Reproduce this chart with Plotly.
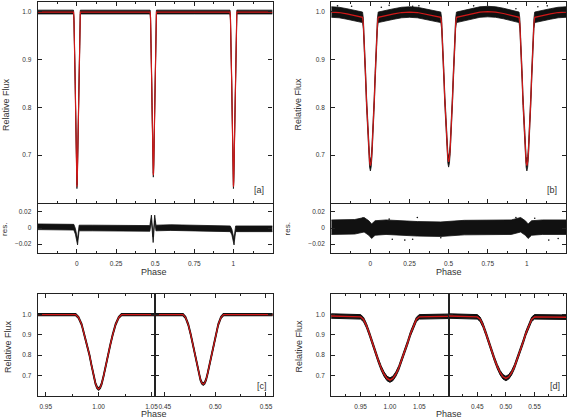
import plotly.graph_objects as go

W, H = 571, 420

# ---- system A (panels a and c) : phase / relative flux
a_phase = [-0.25, -0.1,
           -0.0217, -0.019, -0.016, -0.0133, -0.011, -0.0086, -0.0067, -0.0048, -0.003, -0.0015, 0.0,
           0.0015, 0.003, 0.0048, 0.0067, 0.0086, 0.011, 0.0133, 0.016, 0.019, 0.0217,
           0.25,
           0.468, 0.4705, 0.4732, 0.4757, 0.4779, 0.4801, 0.4819, 0.4837, 0.4852, 0.4866, 0.488,
           0.4894, 0.4908, 0.4923, 0.4941, 0.4959, 0.4981, 0.5003, 0.5028, 0.5055, 0.508,
           0.75,
           0.9783, 0.981, 0.984, 0.9867, 0.989, 0.9914, 0.9933, 0.9952, 0.997, 0.9985, 1.0,
           1.0015, 1.003, 1.0048, 1.0067, 1.0086, 1.011, 1.0133, 1.016, 1.019, 1.0217,
           1.1, 1.25]
a_flux = [0.999, 0.999,
          0.999, 0.985, 0.95, 0.9, 0.85, 0.8, 0.75, 0.7, 0.662, 0.642, 0.634,
          0.642, 0.662, 0.7, 0.75, 0.8, 0.85, 0.9, 0.95, 0.985, 0.999,
          0.999,
          0.999, 0.985, 0.95, 0.9, 0.85, 0.8, 0.75, 0.71, 0.68, 0.664, 0.658,
          0.664, 0.68, 0.71, 0.75, 0.8, 0.85, 0.9, 0.95, 0.985, 0.999,
          0.999,
          0.999, 0.985, 0.95, 0.9, 0.85, 0.8, 0.75, 0.7, 0.662, 0.642, 0.634,
          0.642, 0.662, 0.7, 0.75, 0.8, 0.85, 0.9, 0.95, 0.985, 0.999,
          0.999, 0.999]
a_scatter = 0.004

a_res_phase = [-0.25, -0.1, -0.02, -0.01, 0.0, 0.004, 0.008, 0.014, 0.1, 0.25, 0.4,
               0.466, 0.476, 0.487, 0.497, 0.505, 0.6, 0.75, 0.9,
               0.98, 0.99, 1.0, 1.004, 1.008, 1.014, 1.1, 1.25]
a_res = [0.0015, 0.001, 0.001, -0.004, -0.012, -0.0175, -0.01, 0.0, 0.0, 0.0, -0.0005,
         -0.0005, 0.0125, -0.0145, 0.0125, 0.0, 0.0005, 0.0, -0.0005,
         -0.001, -0.005, -0.013, -0.0175, -0.01, -0.001, -0.001, -0.001]
a_res_scatter = 0.0035

# ---- system B (panels b and d)
b_phase = [-0.25, -0.2, -0.15, -0.1,
           -0.05, -0.045, -0.04, -0.035, -0.03, -0.025, -0.02, -0.015, -0.01, -0.005, 0.0,
           0.005, 0.01, 0.015, 0.02, 0.025, 0.03, 0.035, 0.04, 0.045, 0.05,
           0.1, 0.15, 0.2, 0.25, 0.3, 0.35, 0.4,
           0.45, 0.455, 0.46, 0.465, 0.47, 0.475, 0.48, 0.485, 0.49, 0.495, 0.5,
           0.505, 0.51, 0.515, 0.52, 0.525, 0.53, 0.535, 0.54, 0.545, 0.55,
           0.6, 0.65, 0.7, 0.75, 0.8, 0.85, 0.9,
           0.95, 0.955, 0.96, 0.965, 0.97, 0.975, 0.98, 0.985, 0.99, 0.995, 1.0,
           1.005, 1.01, 1.015, 1.02, 1.025, 1.03, 1.035, 1.04, 1.045, 1.05,
           1.1, 1.15, 1.2, 1.25]
b_flux = [0.999, 0.998, 0.995, 0.992,
          0.988, 0.975, 0.945, 0.905, 0.86, 0.815, 0.775, 0.737, 0.707, 0.686, 0.678,
          0.686, 0.707, 0.737, 0.775, 0.815, 0.86, 0.905, 0.945, 0.975, 0.988,
          0.992, 0.995, 0.998, 0.999, 0.998, 0.995, 0.992,
          0.988, 0.976, 0.947, 0.908, 0.864, 0.82, 0.781, 0.744, 0.714, 0.694, 0.686,
          0.694, 0.714, 0.744, 0.781, 0.82, 0.864, 0.908, 0.947, 0.976, 0.988,
          0.992, 0.996, 0.999, 1.0, 0.999, 0.996, 0.992,
          0.988, 0.975, 0.945, 0.905, 0.86, 0.815, 0.775, 0.737, 0.707, 0.686, 0.678,
          0.686, 0.707, 0.737, 0.775, 0.815, 0.86, 0.905, 0.945, 0.975, 0.988,
          0.992, 0.995, 0.998, 0.999]
b_scatter = 0.011

b_res_phase = [-0.25, -0.1, -0.04, -0.01, 0.008, 0.03, 0.1, 0.3, 0.45, 0.6, 0.9,
               0.96, 0.99, 1.008, 1.03, 1.1, 1.25]
b_res = [0.001, 0.0015, 0.004, 0.0, -0.004, 0.0, 0.001, -0.001, -0.0015, 0.0005, 0.001,
         0.004, 0.0, -0.004, 0.0, 0.001, 0.001]
b_res_scatter = 0.009

# a few stray points above / below the band of system B
b_out_phase = [-0.21, -0.12, 0.07, 0.12, 0.27, 0.31, 0.66, 0.93, 1.07, 1.13]
b_out_flux = [1.012, 1.011, 1.009, 1.013, 1.011, 1.012, 1.012, 1.006, 1.01, 1.012]
b_res_out_phase = [-0.05, 0.12, 0.14, 0.22, 0.27, 0.3, 0.45, 0.93, 1.05, 1.14, 1.2]
b_res_out = [0.012, 0.011, -0.014, -0.015, -0.014, 0.013, -0.012, 0.013, 0.012, -0.015, -0.013]

# tick values
flux_ticks = [0.7, 0.8, 0.9, 1.0]
res_ticks = [-0.02, 0, 0.02]
phase_ticks = [0, 0.25, 0.5, 0.75, 1]
prim_ticks = [0.95, 1.0, 1.05]
sec_ticks = [0.45, 0.5, 0.55]

BLACK = '#111111'
RED = '#d01818'
FONT = 'Liberation Sans'


def xd(a, b):
    return [a / W, b / W]


def yd(top, bottom):
    return [1 - bottom / H, 1 - top / H]


fig = go.Figure()


def band(x, y, s, ax, ay, lw=0.8):
    lo = [v - s for v in y]
    hi = [v + s for v in y]
    fig.add_trace(go.Scatter(x=x, y=lo, mode='lines', line=dict(color=BLACK, width=lw),
                             xaxis=ax, yaxis=ay, showlegend=False, hoverinfo='skip'))
    fig.add_trace(go.Scatter(x=x, y=hi, mode='lines', line=dict(color=BLACK, width=lw),
                             fill='tonexty', fillcolor=BLACK,
                             xaxis=ax, yaxis=ay, showlegend=False, hoverinfo='skip'))


def model(x, y, ax, ay, lw=1.2):
    fig.add_trace(go.Scatter(x=x, y=y, mode='lines', line=dict(color=RED, width=lw),
                             xaxis=ax, yaxis=ay, showlegend=False, hoverinfo='skip'))


def dots(x, y, ax, ay):
    fig.add_trace(go.Scatter(x=x, y=y, mode='markers', marker=dict(color=BLACK, size=1.6),
                             xaxis=ax, yaxis=ay, showlegend=False, hoverinfo='skip'))


# panel a
band(a_phase, a_flux, a_scatter, 'x', 'y')
model(a_phase, a_flux, 'x', 'y')
band(a_res_phase, a_res, a_res_scatter, 'x2', 'y2')
# panel b
band(b_phase, b_flux, b_scatter, 'x3', 'y3')
dots(b_out_phase, b_out_flux, 'x3', 'y3')
model(b_phase, b_flux, 'x3', 'y3')
band(b_res_phase, b_res, b_res_scatter, 'x4', 'y4')
dots(b_res_out_phase, b_res_out, 'x4', 'y4')
# panel c (zoom of system A)
for ax, ay in [('x5', 'y5'), ('x6', 'y6')]:
    band(a_phase, a_flux, a_scatter, ax, ay, lw=1.6)
    model(a_phase, a_flux, ax, ay, lw=1.2)
# panel d (zoom of system B)
for ax, ay in [('x7', 'y7'), ('x8', 'y8')]:
    band(b_phase, b_flux, b_scatter, ax, ay, lw=1.0)
    model(b_phase, b_flux, ax, ay, lw=1.4)

base = dict(showline=True, mirror='ticks', linecolor='#222222', linewidth=1.3,
            ticks='inside', ticklen=4, tickwidth=1, tickcolor='#222222',
            showgrid=False, zeroline=False, ticklabelstandoff=4,
            tickfont=dict(size=6.5, color='#333333', family=FONT))


def ax(**kw):
    d = dict(base)
    d.update(kw)
    return d


minor_top = dict(ticks='inside', ticklen=2, dtick=0.125, tickcolor='#222222', showgrid=False)
minor_zoom = dict(ticks='inside', ticklen=2, dtick=0.025, tickcolor='#222222', showgrid=False)

layout = dict(
    width=W, height=H, margin=dict(l=0, r=0, t=0, b=0),
    paper_bgcolor='white', plot_bgcolor='white',
    font=dict(family=FONT, color='#333333'),
    # a
    xaxis=ax(domain=xd(38, 274), range=[-0.25, 1.25], tickvals=phase_ticks, showticklabels=False,
             minor=minor_top, anchor='y'),
    yaxis=ax(domain=yd(2, 203), range=[0.6, 1.02], tickvals=flux_ticks, tickformat='.1f', anchor='x'),
    xaxis2=ax(domain=xd(38, 274), range=[-0.25, 1.25], tickvals=phase_ticks, minor=minor_top,
              mirror=False, anchor='y2'),
    yaxis2=ax(domain=yd(203, 253), range=[-0.031, 0.031], tickvals=res_ticks, anchor='x2'),
    # b
    xaxis3=ax(domain=xd(333, 569), range=[-0.25, 1.25], tickvals=phase_ticks, showticklabels=False,
              minor=minor_top, anchor='y3'),
    yaxis3=ax(domain=yd(2, 203), range=[0.6, 1.02], tickvals=flux_ticks, tickformat='.1f', anchor='x3'),
    xaxis4=ax(domain=xd(333, 569), range=[-0.25, 1.25], tickvals=phase_ticks, minor=minor_top,
              mirror=False, anchor='y4'),
    yaxis4=ax(domain=yd(203, 253), range=[-0.031, 0.031], tickvals=res_ticks, anchor='x4'),
    # c
    xaxis5=ax(domain=xd(38, 156), range=[0.9425, 1.0535], tickvals=prim_ticks, tickformat='.2f',
              minor=minor_zoom, anchor='y5'),
    yaxis5=ax(domain=yd(294, 396), range=[0.6, 1.1], tickvals=flux_ticks, tickformat='.1f', anchor='x5'),
    xaxis6=ax(domain=xd(156, 274), range=[0.4405, 0.5565], tickvals=sec_ticks, tickformat='.2f',
              minor=minor_zoom, anchor='y6'),
    yaxis6=ax(domain=yd(294, 396), range=[0.6, 1.1], tickvals=flux_ticks, showticklabels=False, anchor='x6'),
    # d
    xaxis7=ax(domain=xd(333, 451), range=[0.9, 1.1], tickvals=prim_ticks, tickformat='.2f',
              minor=minor_zoom, anchor='y7'),
    yaxis7=ax(domain=yd(294, 396), range=[0.6, 1.1], tickvals=flux_ticks, tickformat='.1f', anchor='x7'),
    xaxis8=ax(domain=xd(451, 569), range=[0.4, 0.605], tickvals=sec_ticks, tickformat='.2f',
              minor=minor_zoom, anchor='y8'),
    yaxis8=ax(domain=yd(294, 396), range=[0.6, 1.1], tickvals=flux_ticks, showticklabels=False, anchor='x8'),
)
fig.update_layout(**layout)


def label(text, x, y, angle=0, size=9):
    fig.add_annotation(text=text, x=x / W, y=1 - y / H, xref='paper', yref='paper',
                       showarrow=False, textangle=angle, xanchor='center', yanchor='middle',
                       font=dict(size=size, color='#333333', family=FONT))


label('Relative Flux', 6, 104, angle=-90)
label('Relative Flux', 300, 104, angle=-90)
label('res.', 5, 229, angle=-90, size=8)
label('res.', 290, 229, angle=-90, size=8)
label('Phase', 155, 272)
label('Phase', 451, 272)
label('Relative Flux', 8, 346, angle=-90)
label('Relative Flux', 301, 346, angle=-90)
label('Phase', 155, 414)
label('Phase', 451, 414)

for text, xa, ya in [('[a]', 'x', 'y'), ('[b]', 'x3', 'y3'), ('[c]', 'x6', 'y6'), ('[d]', 'x8', 'y8')]:
    fig.add_annotation(text=text, x=0.97, y=0.03, xref=xa + ' domain', yref=ya + ' domain',
                       showarrow=False, xanchor='right', yanchor='bottom',
                       font=dict(size=9, color='#333333', family=FONT))

fig.write_html("out.html", config={'displayModeBar': False},
               post_script="document.body.style.margin='0';")
